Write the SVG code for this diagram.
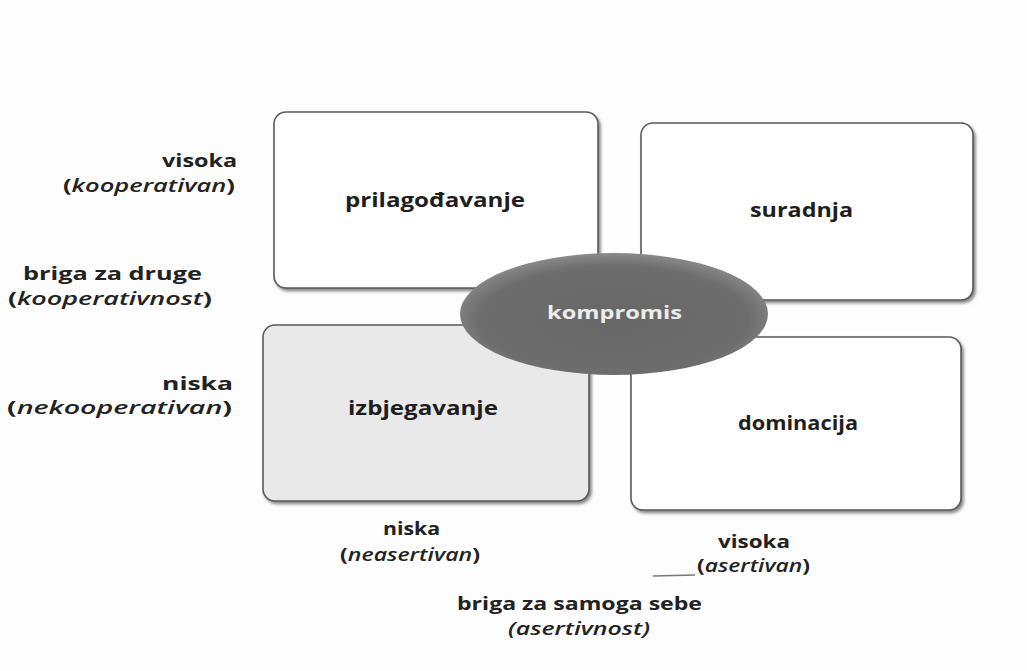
<svg xmlns="http://www.w3.org/2000/svg" width="1027" height="671" viewBox="0 0 1027 671">
<style>
.box{fill:#ffffff;stroke:#5a5a5a;stroke-width:1.6}
.box.gray{fill:#e9e9e9}
.node{font-family:"Open Sans","Liberation Sans",sans-serif;font-weight:700;font-size:20px;fill:#1e1e1e}
.lab{font-family:"Open Sans","Liberation Sans",sans-serif;font-weight:700;font-size:18px;fill:#222}
.it{font-style:italic;font-weight:600}
.komp{font-family:"Open Sans","Liberation Sans",sans-serif;font-weight:700;font-size:18px;fill:#ececec}
</style>
<defs>
<filter id="sh" x="-5%" y="-5%" width="112%" height="115%">
<feDropShadow dx="2" dy="2.5" stdDeviation="1.6" flood-color="#555" flood-opacity="0.7"/>
</filter>
<radialGradient id="eg" cx="0.5" cy="0.55" r="0.55">
<stop offset="0" stop-color="#676767"/>
<stop offset="0.8" stop-color="#6d6d6d"/>
<stop offset="1" stop-color="#8a8a8a"/>
</radialGradient>
</defs>
<rect width="1027" height="671" fill="#fdfdfd"/>
<g id="prilagodavanje">
<rect class="box" x="274" y="112" width="324" height="176" rx="12" filter="url(#sh)"/>
<text class="node" x="345" y="207" textLength="180" lengthAdjust="spacingAndGlyphs">prilagođavanje</text>
</g>
<g id="suradnja">
<rect class="box" x="641" y="123" width="332" height="177" rx="12" filter="url(#sh)"/>
<text class="node" x="750" y="217" textLength="103" lengthAdjust="spacingAndGlyphs">suradnja</text>
</g>
<g id="izbjegavanje">
<rect class="box gray" x="263" y="325" width="326" height="176" rx="12" filter="url(#sh)"/>
<text class="node" x="348" y="415" textLength="150" lengthAdjust="spacingAndGlyphs">izbjegavanje</text>
</g>
<g id="dominacija">
<rect class="box" x="631" y="337" width="330" height="173" rx="12" filter="url(#sh)"/>
<text class="node" x="738" y="430" textLength="120" lengthAdjust="spacingAndGlyphs">dominacija</text>
</g>
<g id="connectors"></g>
<g id="kompromis">
<ellipse cx="614" cy="314" rx="154" ry="61" fill="url(#eg)"/>
<text class="komp" x="547" y="319" textLength="135" lengthAdjust="spacingAndGlyphs">kompromis</text>
</g>
<g id="y-axis-labels">
<text class="lab" x="162" y="167" textLength="75" lengthAdjust="spacingAndGlyphs">visoka</text>
<text class="lab" x="63" y="192" textLength="172" lengthAdjust="spacingAndGlyphs">(<tspan class="it">kooperativan</tspan>)</text>
<text class="lab" x="23" y="280" textLength="179" lengthAdjust="spacingAndGlyphs">briga za druge</text>
<text class="lab" x="8" y="305" textLength="204" lengthAdjust="spacingAndGlyphs">(<tspan class="it">kooperativnost</tspan>)</text>
<text class="lab" x="162" y="390" textLength="71" lengthAdjust="spacingAndGlyphs">niska</text>
<text class="lab" x="7" y="414" textLength="225" lengthAdjust="spacingAndGlyphs">(<tspan class="it">nekooperativan</tspan>)</text>
</g>
<g id="x-axis-labels">
<text class="lab" x="383" y="535" textLength="57" lengthAdjust="spacingAndGlyphs">niska</text>
<text class="lab" x="340" y="561" textLength="140" lengthAdjust="spacingAndGlyphs">(<tspan class="it">neasertivan</tspan>)</text>
<text class="lab" x="718" y="548" textLength="72" lengthAdjust="spacingAndGlyphs">visoka</text>
<text class="lab" x="697" y="572" textLength="113" lengthAdjust="spacingAndGlyphs">(<tspan class="it">asertivan</tspan>)</text>
<text class="lab" x="457" y="610" textLength="245" lengthAdjust="spacingAndGlyphs">briga za samoga sebe</text>
<text class="lab" x="508" y="635" textLength="142" lengthAdjust="spacingAndGlyphs"><tspan class="it">(asertivnost)</tspan></text>
</g>
<line x1="653" y1="576" x2="695" y2="575" stroke="#777" stroke-width="1.5"/>
</svg>
